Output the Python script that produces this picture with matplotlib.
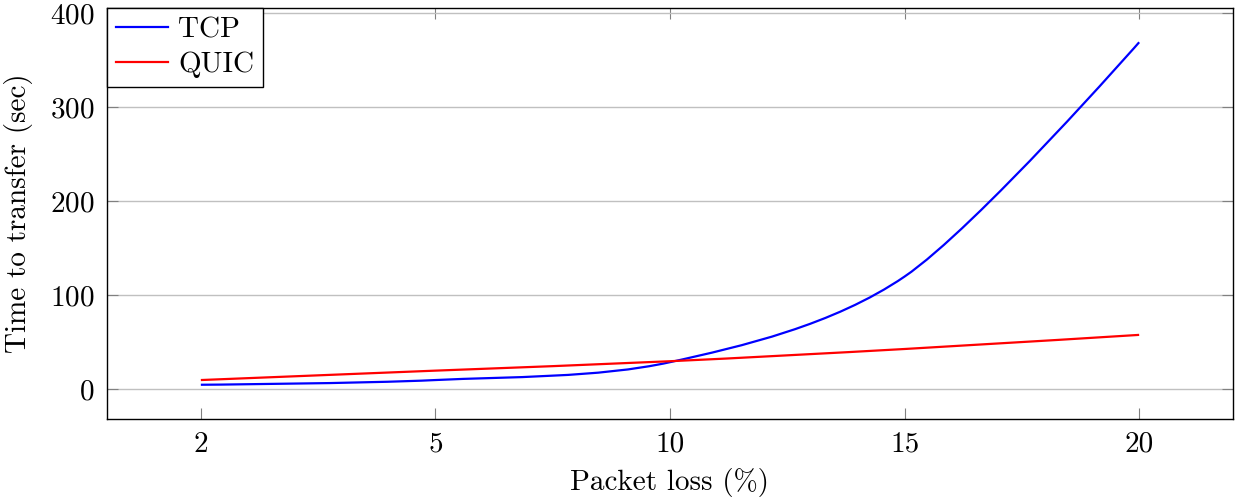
import numpy as np
import matplotlib
matplotlib.use('Agg')
import matplotlib.pyplot as plt
from matplotlib.path import Path
from matplotlib.patches import PathPatch
from matplotlib.lines import Line2D

# data (packet loss categories, transfer time in sec)
loss = ['2', '5', '10', '15', '20']
tcp = [5, 10, 29, 120, 369]
quic = [10, 20, 30, 43, 58]

plt.rcParams['font.family'] = 'serif'
plt.rcParams['font.serif'] = ['cmr10']
plt.rcParams['mathtext.fontset'] = 'cm'
plt.rcParams['axes.unicode_minus'] = False
plt.rcParams['axes.formatter.use_mathtext'] = True

TENSION = 0.2775 * 0.55
FS = 21


def smooth_path(xs, ys):
    # tikz-like "smooth" curve through the points
    pts = np.column_stack([xs, ys]).astype(float)
    n = len(pts)
    verts = [pts[0]]
    codes = [Path.MOVETO]
    for i in range(n - 1):
        p0 = pts[i - 1] if i > 0 else pts[i]
        p1 = pts[i]
        p2 = pts[i + 1]
        p3 = pts[i + 2] if i + 2 < n else pts[i + 1]
        c1 = p1 + TENSION * (p2 - p0) if i > 0 else p1
        c2 = p2 - TENSION * (p3 - p1) if i + 2 < n else p2
        verts += [c1, c2, p2]
        codes += [Path.CURVE4] * 3
    return Path(verts, codes)


fig = plt.figure(figsize=(12.35, 4.98), dpi=100)
ax = fig.add_axes([107 / 1235, 79 / 498, 1126 / 1235, 411 / 498])

x = np.arange(len(loss))
series = [(tcp, 'blue', 'TCP'), (quic, 'red', 'QUIC')]
handles = []
for vals, col, name in series:
    ax.add_patch(PathPatch(smooth_path(x, vals), facecolor='none',
                           edgecolor=col, lw=1.6, zorder=3))
    handles.append(Line2D([], [], color=col, lw=1.6, label=name))

allv = tcp + quic
lo, hi = min(allv), max(allv)
pad = 0.1 * (hi - lo)
ax.set_ylim(lo - pad, hi + pad)
ax.set_xlim(-0.4, len(loss) - 1 + 0.4)

ax.set_xticks(x)
ax.set_xticklabels(loss)
ax.set_yticks([0, 100, 200, 300, 400])
ax.yaxis.grid(True, color='#c0c0c0', lw=1)
ax.set_axisbelow(True)
ax.tick_params(direction='in', length=8, width=0.8, color='#808080',
               top=True, right=True, labelsize=FS, pad=9)
for s in ax.spines.values():
    s.set_linewidth(1)
    s.set_color('black')

ax.set_xlabel('Packet loss (%)', fontsize=FS, labelpad=7)
ax.set_ylabel('Time to transfer (sec)', fontsize=FS, labelpad=12)

leg = ax.legend(handles=handles, loc='upper left', fontsize=FS,
                fancybox=False, framealpha=1, edgecolor='black',
                borderaxespad=0, handlelength=1.8, handletextpad=0.35,
                borderpad=0.3, labelspacing=0.3)
leg.get_frame().set_linewidth(1)

fig.savefig('out.png', dpi=100)
